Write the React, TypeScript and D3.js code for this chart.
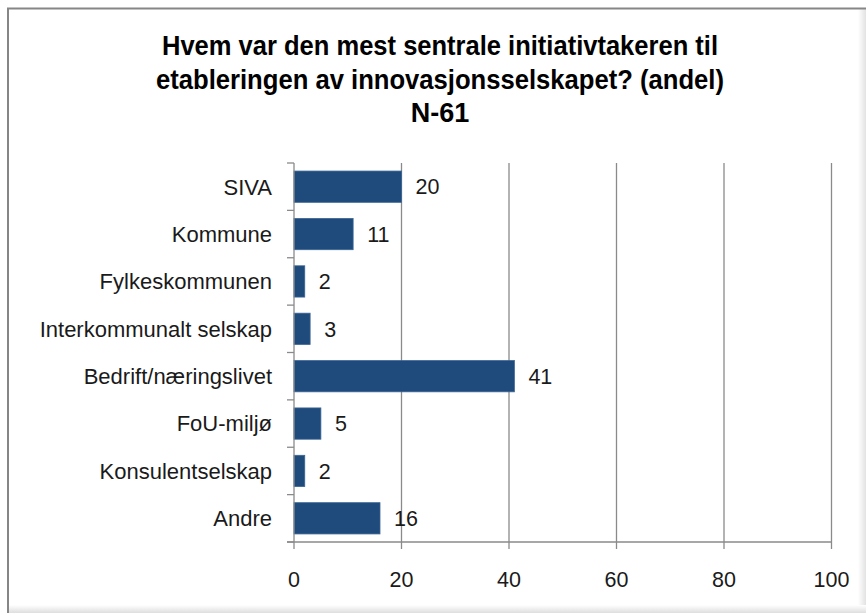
import React from "react";
import * as d3 from "d3";

const categories = [
  "SIVA",
  "Kommune",
  "Fylkeskommunen",
  "Interkommunalt selskap",
  "Bedrift/næringslivet",
  "FoU-miljø",
  "Konsulentselskap",
  "Andre",
];
const values = [20, 11, 2, 3, 41, 5, 2, 16];
const xTicks = [0, 20, 40, 60, 80, 100];
const titleLines = [
  "Hvem var den mest sentrale initiativtakeren til",
  "etableringen av innovasjonsselskapet? (andel)",
  "N-61",
];
const titleWidths = [556, 568, 0];

const W = 866;
const H = 613;
const left = 294;
const right = 831.5;
const top = 163;
const bottom = 542;

const labelFont = "'Liberation Sans', Arial, sans-serif";
const titleFont = "'Liberation Sans', Arial, sans-serif";

export default function App() {
  const x = d3.scaleLinear().domain([0, 100]).range([left, right]);
  const y = d3
    .scaleBand<string>()
    .domain(categories)
    .range([top, bottom])
    .paddingInner(0.34)
    .paddingOuter(0.17);
  const step = y.step();
  const boundaries = d3.range(categories.length + 1).map((i) => top + i * step);
  const gridColor = "#8a8a8a";

  return (
    <svg
      width={W}
      height={H}
      style={{ position: "absolute", left: 0, top: 0, background: "#fff" }}
    >
      <defs>
        <linearGradient id="rshade" x1="0" x2="1" y1="0" y2="0">
          <stop offset="0" stopColor="#ffffff" />
          <stop offset="1" stopColor="#e2e2e2" />
        </linearGradient>
        <linearGradient id="bshade" x1="0" x2="0" y1="0" y2="1">
          <stop offset="0" stopColor="#ffffff" />
          <stop offset="1" stopColor="#dedede" />
        </linearGradient>
      </defs>
      <rect x={0} y={0} width={W} height={H} fill="#fff" />
      {/* frame */}
      <rect x={858} y={8} width={8} height={H - 8} fill="url(#rshade)" />
      <rect x={8} y={605} width={W - 8} height={8} fill="url(#bshade)" />
      <line x1={7} x2={W} y1={8.5} y2={8.5} stroke="#868686" strokeWidth={2} />
      <line x1={8} x2={8} y1={8} y2={H} stroke="#868686" strokeWidth={2} />

      {/* title */}
      {titleLines.map((t, i) => (
        <text
          key={i}
          x={440}
          y={55 + i * 33.5}
          textAnchor="middle"
          fontFamily={titleFont}
          fontWeight="bold"
          fontSize={27}
          fill="#000"
          {...(titleWidths[i]
            ? { textLength: titleWidths[i], lengthAdjust: "spacingAndGlyphs" }
            : {})}
        >
          {t}
        </text>
      ))}

      {/* gridlines */}
      {xTicks.slice(1).map((t) => (
        <line
          key={t}
          x1={x(t)}
          x2={x(t)}
          y1={top}
          y2={bottom}
          stroke={gridColor}
          strokeWidth={1.3}
        />
      ))}

      {/* bars */}
      {categories.map((c, i) => (
        <rect
          key={c}
          x={x(0)}
          y={y(c)!}
          width={x(values[i]) - x(0)}
          height={y.bandwidth()}
          fill="#1F4A7C"
          stroke="#3b6594"
          strokeWidth={0.8}
        />
      ))}

      {/* axes */}
      <line x1={x(0)} x2={x(0)} y1={top} y2={bottom} stroke={gridColor} strokeWidth={1.3} />
      <line x1={x(0) - 7} x2={right} y1={bottom} y2={bottom} stroke={gridColor} strokeWidth={1.3} />
      {boundaries.map((b, i) => (
        <line key={i} x1={x(0) - 7} x2={x(0)} y1={b} y2={b} stroke={gridColor} strokeWidth={1.3} />
      ))}
      {xTicks.map((t) => (
        <line key={t} x1={x(t)} x2={x(t)} y1={bottom} y2={bottom + 7} stroke={gridColor} strokeWidth={1.3} />
      ))}

      {/* category labels */}
      {categories.map((c) => (
        <text
          key={c}
          x={272}
          y={y(c)! + y.bandwidth() / 2}
          dy="0.36em"
          textAnchor="end"
          fontFamily={labelFont}
          fontSize={22}
          fill="#1a1a1a"
        >
          {c}
        </text>
      ))}

      {/* value labels */}
      {categories.map((c, i) => (
        <text
          key={c}
          x={x(values[i]) + 14}
          y={y(c)! + y.bandwidth() / 2}
          dy="0.36em"
          fontFamily={labelFont}
          fontSize={21.5}
          fill="#1a1a1a"
        >
          {values[i]}
        </text>
      ))}

      {/* x tick labels */}
      {xTicks.map((t) => (
        <text
          key={t}
          x={x(t)}
          y={587}
          textAnchor="middle"
          fontFamily={labelFont}
          fontSize={21.5}
          fill="#1a1a1a"
        >
          {t}
        </text>
      ))}
    </svg>
  );
}
